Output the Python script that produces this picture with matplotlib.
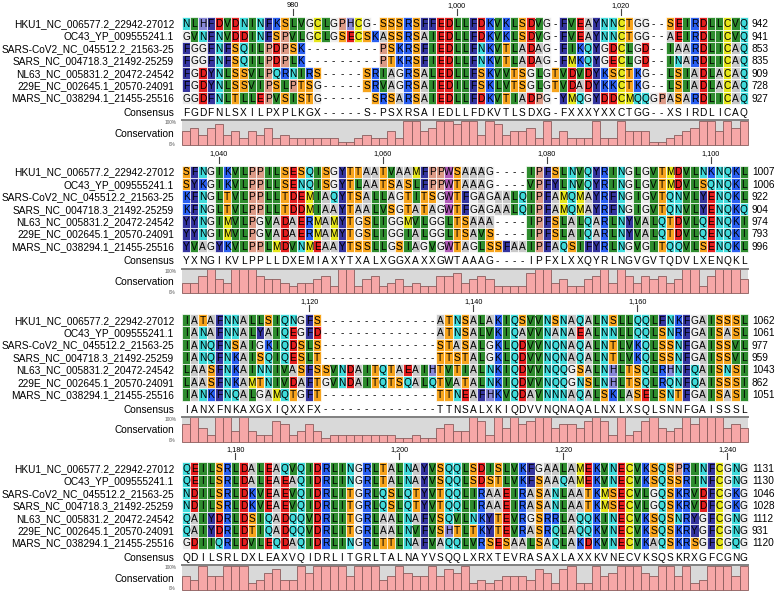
"""Spike protein alignment (seven coronaviruses), drawn as a CLC-style panel."""
import matplotlib
matplotlib.use("Agg")
import matplotlib.pyplot as plt
from matplotlib.patches import Rectangle
from matplotlib.collections import PatchCollection

plt.rcParams['font.family'] = ['Liberation Sans', 'DejaVu Sans']

names = ["HKU1_NC_006577.2_22942-27012", "OC43_YP_009555241.1",
         "SARS-CoV2_NC_045512.2_21563-25", "SARS_NC_004718.3_21492-25259",
         "NL63_NC_005831.2_20472-24542", "229E_NC_002645.1_20570-24091",
         "MARS_NC_038294.1_21455-25516"]

block_starts = [967, 1036, 1105, 1174]

seqs_1 = ["NLHFDVDNINFKSLVGCLGPHCG-SSSRSFFEDLLFDKVKLSDVG-FVEAYNNCTGG--SEIRDLLCVQ",
          "GVNFNVDDINFSPVLGCLGSECSKASSRSAIEDLLFDKVKLSDVG-FVEAYNNCTGG--AEIRDLICVQ",
          "FGGFNFSQILPDPSK---------PSKRSFIEDLLFNKVTLADAG-FIKQYGDCLGD--IAARDLICAQ",
          "FGGFNFSQILPDPLK---------PTKRSFIEDLLFNKVTLADAG-FMKQYGECLGD--INARDLICAQ",
          "FGDYNLSSVLPQRNIRS-----SRIAGRSALEDLLFSKVVTSGLGTVDVDYKSCTKG--LSIADLACAQ",
          "FGDYNLSSVIPSLPTSG-----SRVAGRSAIEDILFSKLVTSGLGTVDADYKKCTKG--LSIADLACAQ",
          "GGDFNLTLLEPVSISTG------SRSARSAIEDLLFDKVTIADPG-YMQGYDDCMQQGPASARDLICAQ"]
seqs_2 = ["SFNGIKVLPPILSESQISGYTTAATVAAMFPPWSAAAG----IPFSLNVQYRINGLGVTMDVLNKNQKL",
          "SYKGIKVLPPLLSENQISGYTLAATSASLFPPWTAAAG----VPFYLNVQYRINGLGVTMDVLSQNQKL",
          "KFNGLTVLPPLLTDEMIAQYTSALLAGTITSGWTFGAGAALQIPFAMQMAYRFNGIGVTQNVLYENQKL",
          "KFNGLTVLPPLLTDDMIAAYTAALVSGTATAGWTFGAGAALQIPFAMQMAYRFNGIGVTQNVLYENQKQ",
          "YYNGIMVLPGVADAERMAMYTGSLIGGMVLGGLTSAAA----IPFSLALQARLNYVALQTDVLQENQKI",
          "YYNGIMVLPGVADAERMAMYTGSLIGGIALGGLTSAVS----IPFSLAIQARLNYVALQTDVLQENQKI",
          "YVAGYKVLPPLMDVNMEAAYTSSLLGSIAGVGWTAGLSSFAAIPFAQSIFYRLNGVGITQQVLSENQKL"]
seqs_3 = ["IATAFNNALLSIQNGFS--------------ATNSALAKIQSVVNSNAQALNSLLQQLFNKFGAISSSL",
          "IANAFNNALYAIQEGFD--------------ATNSALVKIQAVVNANAEALNNLLQQLSNRFGAISASL",
          "IANQFNSAIGKIQDSLS--------------STASALGKLQDVVNQNAQALNTLVKQLSSNFGAISSVL",
          "IANQFNKAISQIQESLT--------------TTSTALGKLQDVVNQNAQALNTLVKQLSSNFGAISSVL",
          "LAASFNKAINNIVASFSSVNDAITQTAEAIHTVTIALNKIQDVVNQQGSALNHLTSQLRHNFQAISNSI",
          "LAASFNKAMTNIVDAFTGVNDAITQTSQALQTVATALNKIQDVVNQQGNSLNHLTSQLRQNFQAISSSI",
          "IANKFNQALGAMQTGFT--------------TTNEAFHKVQDAVNNNAQALSKLASELSNTFGAISASI"]
seqs_4 = ["QEILSRLDALEAQVQIDRLINGRLTALNAYVSQQLSDISLVKFGAALAMEKVNECVKSQSPRINFCGNG",
          "QEILSRLDALEAEAQIDRLINGRLTALNAYVSQQLSDSTLVKFSAAQAMEKVNECVKSQSSRINFCGNG",
          "NDILSRLDKVEAEVQIDRLITGRLQSLQTYVTQQLIRAAEIRASANLAATKMSECVLGQSKRVDFCGKG",
          "NDILSRLDKVEAEVQIDRLITGRLQSLQTYVTQQLIRAAEIRASANLAATKMSECVLGQSKRVDFCGKG",
          "QAIYDRLDSIQADQQVDRLITGRLAALNAFVSQVLNKYTEVRGSRRLAQQKINECVKSQSNRYGFCGNG",
          "QAIYDRLDTIQADQQVDRLITGRLAALNVFVSHTLTKYTEVRASRQLAQQKVNECVKSQSKRYGFCGNG",
          "GDIIQRLDVLEQDAQIDRLINGRLTTLNAFVAQQLVRSESAALSAQLAKDKVNECVKAQSKRSGFCGQG"]

consensus = ["FGDFNLSXILPXPLKGX-----S-PSXRSAIEDLLFDKVTLSDXG-FXXXYXXCTGG--XSIRDLICAQ",
             "YXNGIKVLPPLLDXEMIAXYTXALXGGXAXXGWTAAAG----IPFXLXXQYRLNGVGVTQDVLXENQKL",
             "IANXFNKAXGXIQXXFX--------------TTNSALXKIQDVVNQNAQALNXLXSQLSNNFGAISSSL",
             "QDILSRLDXLEAXVQIDRLITGRLTALNAYVSQQLXRXTEVRASAXLAXXKVNECVKSQSKRXGFCGNG"]

# residue numbers at the end of each row
ends_1 = [942, 941, 853, 835, 909, 728, 927]
ends_2 = [1007, 1006, 922, 904, 974, 793, 996]
ends_3 = [1062, 1061, 977, 959, 1043, 862, 1051]
ends_4 = [1131, 1130, 1046, 1028, 1112, 931, 1120]

# conservation bar heights, in sevenths (0..7)
conservation_1 = [4, 5, 3, 5, 6, 3, 4, 2, 4, 3, 5, 2, 3, 2, 2, 2, 2, 2, 2, 1, 1, 2, 3,
                  2, 2, 4, 2, 7, 7, 4, 5, 7, 7, 6, 7, 7, 3, 7, 6, 3, 4, 4, 5, 2, 7, 2,
                  4, 2, 2, 2, 7, 2, 2, 7, 4, 4, 4, 1, 1, 2, 3, 4, 5, 7, 7, 4, 7, 5, 7]
conservation_2 = [3, 3, 5, 7, 4, 3, 7, 7, 7, 5, 4, 4, 3, 2, 3, 3, 4, 5, 2, 7, 7, 2, 4,
                  5, 2, 3, 4, 2, 3, 2, 2, 5, 5, 6, 3, 4, 5, 4, 2, 2, 2, 2, 6, 7, 7, 3,
                  4, 2, 2, 4, 5, 7, 3, 7, 5, 3, 5, 4, 5, 3, 4, 7, 7, 2, 5, 7, 7, 7, 4]
conservation_3 = [5, 7, 4, 2, 7, 7, 3, 7, 3, 2, 2, 6, 5, 2, 3, 5, 3, 1, 2, 2, 2, 2, 2,
                  2, 2, 2, 1, 1, 2, 1, 1, 4, 5, 3, 3, 7, 6, 2, 7, 4, 7, 5, 6, 7, 7, 4,
                  5, 5, 4, 6, 7, 6, 2, 7, 2, 3, 6, 7, 4, 3, 4, 7, 5, 7, 7, 7, 4, 5, 4]
conservation_4 = [4, 3, 7, 4, 4, 7, 7, 7, 2, 3, 5, 6, 3, 3, 7, 5, 7, 7, 7, 7, 4, 7, 7,
                  7, 3, 4, 7, 5, 4, 4, 7, 4, 6, 5, 7, 2, 3, 2, 3, 4, 4, 4, 3, 6, 5, 2,
                  6, 7, 2, 2, 7, 4, 5, 7, 7, 7, 5, 4, 7, 7, 4, 7, 2, 3, 7, 7, 7, 4, 7]

blocks = [(seqs_1, consensus[0], conservation_1, ends_1),
          (seqs_2, consensus[1], conservation_2, ends_2),
          (seqs_3, consensus[2], conservation_3, ends_3),
          (seqs_4, consensus[3], conservation_4, ends_4)]

# RasMol-style amino acid colours
AA_COLORS = {}
for letters, col in [("DE", "#e41e1e"), ("CM", "#e6e619"), ("KR", "#2a5ff0"),
                     ("ST", "#f7a41c"), ("FY", "#34349e"), ("NQ", "#3fdada"),
                     ("G", "#ececec"), ("LVI", "#2e8c2e"), ("A", "#c9c9c9"),
                     ("W", "#b05ab8"), ("H", "#8888d8"), ("P", "#dc9a86")]:
    for ch in letters:
        AA_COLORS[ch] = col

# layout, in pixels
X0, CW = 182.0, 8.2
BLOCK_H = 148.3
ROW0, ROW_H = 23.5, 12.4
CONS_Y = 112.3
BAND_TOP, BAND_BOT = 120.8, 145.0
NAME_X, NUM_X = 174.0, 752.0
FS = 7.3
CAP = 0.72 * FS * 100 / 72  # cap height in px

fig = plt.figure(figsize=(7.84, 5.94), dpi=100)
ax = fig.add_axes([0, 0, 1, 1])
ax.set_xlim(0, 784)
ax.set_ylim(594, 0)
ax.axis("off")

for b, (seqs, cons, conserv, ends) in enumerate(blocks):
    y0 = b * BLOCK_H
    ncol = len(cons)
    start = block_starts[b]

    # ruler
    for c in range(ncol):
        pos = start + c
        if pos % 20 == 0:
            xc = X0 + (c + 0.5) * CW
            ax.text(xc, y0 + 6.6, f"{pos:,}", ha="center", va="baseline", fontsize=5.2)
            ax.plot([xc, xc], [y0 + 8.5, y0 + 14.5], color="#444444", lw=0.8)

    # residues
    cells, colors = [], []
    for r, seq in enumerate(seqs):
        yc = y0 + ROW0 + r * ROW_H
        ax.text(NAME_X, yc + CAP / 2, names[r], ha="right", va="baseline", fontsize=FS)
        ax.text(NUM_X, yc + CAP / 2, str(ends[r]), ha="left", va="baseline", fontsize=FS)
        for c, ch in enumerate(seq):
            xc = X0 + (c + 0.5) * CW
            if ch != "-":
                cells.append(Rectangle((X0 + c * CW, yc - ROW_H / 2), CW, ROW_H))
                colors.append(AA_COLORS.get(ch, "white"))
            ax.text(xc, yc + CAP / 2, ch, ha="center", va="baseline", fontsize=FS)
    ax.add_collection(PatchCollection(cells, facecolors=colors, edgecolors="white",
                                      linewidths=0.5))

    # consensus
    yc = y0 + CONS_Y
    ax.text(NAME_X, yc + CAP / 2, "Consensus", ha="right", va="baseline", fontsize=FS)
    for c, ch in enumerate(cons):
        ax.text(X0 + (c + 0.5) * CW, yc + CAP / 2, ch, ha="center", va="baseline",
                fontsize=FS)

    # conservation
    top, bot = y0 + BAND_TOP, y0 + BAND_BOT
    ax.add_patch(Rectangle((X0, top), ncol * CW, bot - top, facecolor="#d9d9d9",
                           edgecolor="none"))
    ax.plot([X0, X0 + ncol * CW], [top - 0.6, top - 0.6], color="#808080", lw=1.4)
    xs = [X0 + (c + 0.5) * CW for c in range(ncol)]
    heights = [-(v / 7) * (bot - top) for v in conserv]
    ax.bar(xs, heights, width=CW, bottom=bot, color="#f6a7a7", edgecolor="#8a5c5c",
           linewidth=0.6)
    ax.text(NAME_X, y0 + 133 + CAP / 2, "Conservation", ha="right", va="baseline",
            fontsize=FS)
    ax.text(NAME_X + 2, top + 2.2, "100%", ha="right", va="center", fontsize=3.4,
            color="#555555")
    ax.text(NAME_X + 2, bot - 1, "0%", ha="right", va="center", fontsize=3.4,
            color="#555555")

fig.savefig("out.png", dpi=100)
